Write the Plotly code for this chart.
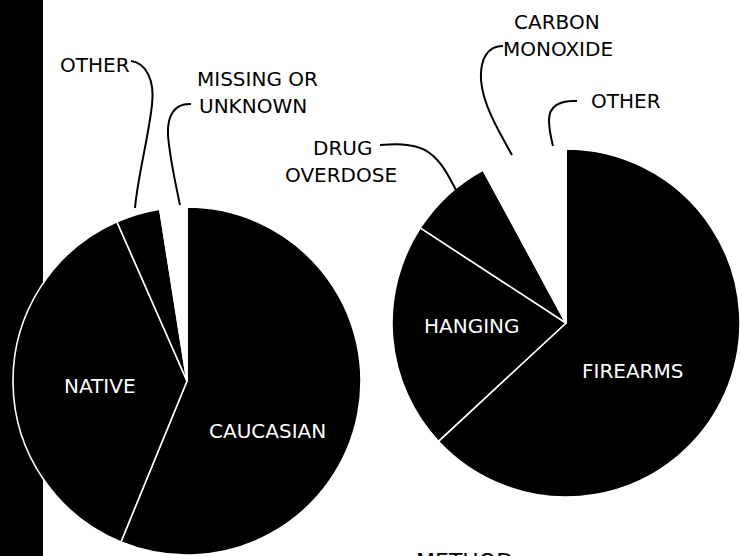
import plotly.graph_objects as go

# -----------------------------
# Data (share of cases, %)
# -----------------------------
race_labels = ["CAUCASIAN", "NATIVE", "OTHER", "MISSING OR UNKNOWN"]
race_values = [56.2, 37.2, 4.1, 2.5]
race_colors = ["black", "black", "black", "white"]

method_labels = ["FIREARMS", "HANGING", "DRUG OVERDOSE", "CARBON MONOXIDE", "OTHER"]
method_values = [63.1, 21.1, 7.9, 5.1, 2.8]
method_colors = ["black", "black", "black", "white", "white"]

W, H = 740, 556
FONT = "DejaVu Sans"


def px(x, y):
    # pixel position -> paper coordinates
    return x / W, 1 - y / H


def path(points):
    # points: list of pixel tuples; "M" first, then cubic segments of 3
    (x0, y0), rest = points[0], points[1:]
    px0, py0 = px(x0, y0)
    d = f"M {px0:.4f},{py0:.4f}"
    for i in range(0, len(rest), 3):
        seg = [px(*p) for p in rest[i:i + 3]]
        d += " C " + " ".join(f"{a:.4f},{b:.4f}" for a, b in seg)
    return d


fig = go.Figure()

# left pie: race
fig.add_trace(go.Pie(
    labels=race_labels, values=race_values,
    marker=dict(colors=race_colors, line=dict(color="white", width=1.6)),
    sort=False, direction="clockwise", rotation=0,
    textinfo="none", hoverinfo="skip", showlegend=False,
    domain=dict(x=[13 / W, 361 / W], y=[1 - 555 / H, 1 - 207 / H]),
))

# right pie: method
fig.add_trace(go.Pie(
    labels=method_labels, values=method_values,
    marker=dict(colors=method_colors, line=dict(color="white", width=1.6)),
    sort=False, direction="clockwise", rotation=0,
    textinfo="none", hoverinfo="skip", showlegend=False,
    domain=dict(x=[392 / W, 740 / W], y=[1 - 497 / H, 1 - 149 / H]),
))

# black band on the left edge
shapes = [dict(type="rect", xref="paper", yref="paper", x0=0, x1=43 / W, y0=0, y1=1,
               fillcolor="black", line=dict(width=0), layer="below")]

# curved leader lines
leaders = [
    [(131, 61), (146, 63), (155, 80), (152, 105), (148, 140), (138, 175), (135, 208)],
    [(191, 104), (175, 103), (167, 115), (168, 135), (170, 160), (176, 185), (180, 205)],
    [(503, 46), (488, 46), (480, 58), (481, 80), (483, 105), (498, 130), (512, 155)],
    [(577, 101), (560, 100), (549, 106), (549, 120), (549, 130), (551, 138), (553, 146)],
    [(380, 145), (395, 144), (410, 143), (425, 150), (440, 158), (448, 175), (456, 190)],
]
for pts in leaders:
    shapes.append(dict(type="path", xref="paper", yref="paper", path=path(pts),
                       line=dict(color="black", width=2)))

# text labels: (text, x, y, colour, xanchor)
labels = [
    ("OTHER", 95, 65, "black", "center"),
    ("MISSING OR", 257, 79, "black", "center"),
    ("UNKNOWN", 253, 106, "black", "center"),
    ("CARBON", 557, 22, "black", "center"),
    ("MONOXIDE", 558, 49, "black", "center"),
    ("OTHER", 626, 101, "black", "center"),
    ("DRUG", 374, 148, "black", "right"),
    ("OVERDOSE", 399, 175, "black", "right"),
    ("NATIVE", 100, 386, "white", "center"),
    ("CAUCASIAN", 267, 431, "white", "center"),
    ("HANGING", 472, 326, "white", "center"),
    ("FIREARMS", 632, 371, "white", "center"),
]
annotations = []
for text, x, y, color, anchor in labels:
    ax, ay = px(x, y)
    annotations.append(dict(text=text, x=ax, y=ay, xref="paper", yref="paper",
                            xanchor=anchor, yanchor="middle", showarrow=False,
                            font=dict(family=FONT, size=20, color=color)))

# section heading, cut off by the bottom edge as in the source scan
annotations.append(dict(text="METHOD", x=464 / W, y=1 - 547 / H, xref="paper", yref="paper",
                        xanchor="center", yanchor="top", showarrow=False,
                        font=dict(family=FONT, size=22, color="black")))

fig.update_layout(
    width=W, height=H,
    margin=dict(l=0, r=0, t=0, b=0),
    paper_bgcolor="white", plot_bgcolor="white",
    shapes=shapes, annotations=annotations,
)

# drop the default page margin so the figure fills the window
fig.write_html("out.html", config={"displayModeBar": False},
               post_script="document.body.style.margin='0';")
